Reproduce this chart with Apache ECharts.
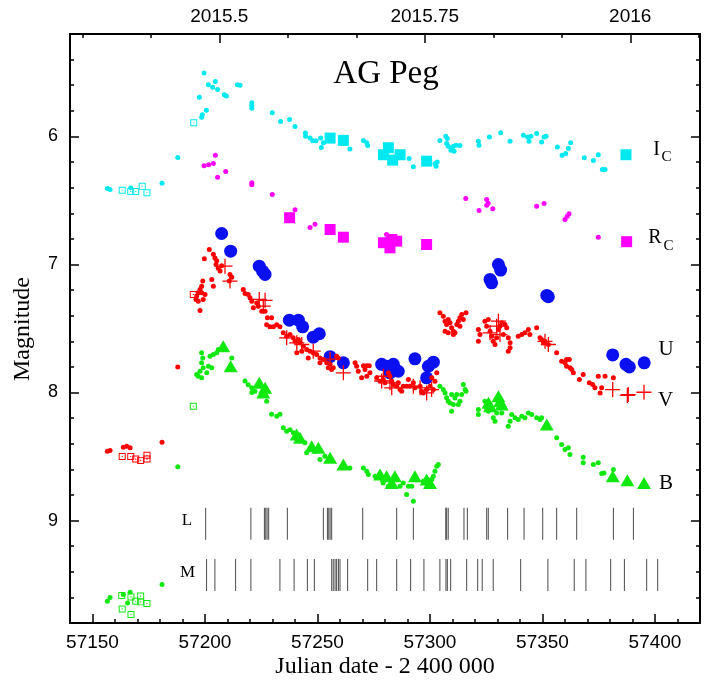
<!DOCTYPE html>
<html>
<head>
<meta charset="utf-8">
<script src="https://cdn.jsdelivr.net/npm/echarts@6/dist/echarts.min.js"></script>
<style>
html,body{margin:0;padding:0;background:#fff;}
#chart{width:710px;height:686px;}
</style>
</head>
<body>
<div id="chart"></div>
<script>
// ---------------- data (JD - 2400000, magnitude) ----------------
const icDots = [
[57156.6,6.406],[57157.8,6.414],[57167.0,6.40],[57180.9,6.365],[57187.9,6.164],
[57197.5,5.693],[57198.5,5.85],[57198.8,5.83],[57200.6,5.795],[57199.6,5.505],
[57201.5,5.596],[57203.4,5.615],[57204.6,5.57],[57205.6,5.633],[57208.6,5.674],[57209.5,5.685],
[57214.4,5.596],[57215.6,5.60],[57220.8,5.737],[57220.8,5.758],[57220.8,5.78],
[57229.9,5.815],[57233.6,5.883],[57237.6,5.867],[57240.0,5.922],[57244.6,5.974],[57244.7,5.998],
[57246.7,6.013],[57247.9,6.034],[57249.3,6.034],[57251.4,6.013],[57251.7,6.086],[57252.6,6.05],
[57264.4,6.099],[57270.4,6.031],[57271.9,6.05],[57272.3,6.07],[57290.7,6.172],[57292.6,6.237],
[57302.7,6.232],[57303.2,6.2],[57302.2,6.213],[57304.4,6.031],[57307.0,5.998],[57307.7,6.016],
[57307.4,6.055],[57308.1,6.076],[57309.3,6.107],[57310.4,6.076],[57311.6,6.068],[57313.3,6.07],
[57310.7,6.115],[57309.6,6.094],[57321.5,6.037],[57321.8,6.068],[57326.4,6.005],[57331.4,5.971],
[57335.6,6.037],[57341.5,5.99],[57343.4,6.005],[57344.0,6.037],[57344.9,5.998],[57347.4,5.977],
[57349.6,6.044],[57350.7,6.005],[57351.6,5.998],[57356.6,6.083],[57358.7,6.146],[57360.3,6.133],
[57361.5,6.094],[57362.5,6.05],[57368.6,6.167],[57372.6,6.188],[57374.8,6.143],[57376.6,6.258],[57377.8,6.258]
];
const icOpen = [[57163.2,6.42],[57167.0,6.43],[57169.2,6.43],[57172.1,6.39],[57174.2,6.44],[57195.0,5.893]];
const icBig = [[57255.6,6.013],[57261.5,6.031],[57281.5,6.088],[57279.3,6.143],[57283.4,6.185],[57286.7,6.143],[57298.5,6.193],[57387.1,6.143]];

const rcDots = [
[57204.6,6.146],[57199.6,6.229],[57201.6,6.221],[57203.7,6.211],[57205.6,6.318],[57209.2,6.273],
[57220.8,6.362],[57220.8,6.377],[57229.9,6.453],[57240.0,6.573],[57246.7,6.711],[57248.9,6.685],
[57280.7,6.766],[57315.9,6.484],[57321.8,6.578],[57325.2,6.492],[57325.9,6.521],[57325.2,6.537],
[57327.9,6.565],[57347.4,6.545],[57350.7,6.523],[57360.0,6.648],[57361.0,6.623],[57361.8,6.604],[57374.8,6.787]
];
const rcBig = [[57237.6,6.635],[57255.6,6.727],[57261.5,6.787],[57279.3,6.83],[57283.0,6.805],[57285.2,6.818],[57282.2,6.87],[57298.5,6.844],[57387.4,6.822]];

const uCircles = [
[57207.4,6.758],[57211.4,6.896],[57224.1,7.013],[57225.6,7.052],[57226.7,7.078],
[57237.5,7.435],[57241.5,7.435],[57243.4,7.487],[57248.1,7.568],[57250.8,7.541],
[57255.6,7.72],[57261.5,7.768],[57278.5,7.78],[57280.7,7.795],[57283.7,7.78],[57285.9,7.834],[57282.2,7.846],
[57293.3,7.737],[57299.3,7.795],[57301.5,7.763],[57298.5,7.885],
[57326.7,7.117],[57327.4,7.143],[57330.4,7.0],[57331.4,7.044],
[57351.9,7.242],[57352.6,7.252],[57381.2,7.706],[57387.1,7.78],[57388.6,7.8],[57395.2,7.768]
];

const vDots = [
[57156.6,8.459],[57157.8,8.453],[57163.7,8.427],[57165.2,8.42],[57166.7,8.432],[57180.9,8.388],[57187.9,7.80],
[57201.9,6.883],[57199.7,6.956],[57203.7,6.92],[57204.4,6.95],[57205.2,6.97],[57204.9,7.0],[57205.9,7.03],
[57206.7,7.05],[57207.4,7.01],[57211.1,7.078],[57211.9,7.10],[57210.8,7.13],[57203.0,7.117],[57203.7,7.17],
[57199.0,7.13],[57198.5,7.17],[57197.8,7.195],[57197.0,7.22],[57196.3,7.247],[57198.5,7.22],[57200.0,7.234],
[57199.2,7.273],[57197.0,7.287],[57196.0,7.273],[57197.8,7.36],
[57217.0,7.195],[57217.8,7.227],[57219.2,7.234],[57220.0,7.26],[57220.8,7.287],[57221.5,7.338],[57223.0,7.3],
[57223.7,7.326],[57225.2,7.365],[57226.7,7.365],[57227.7,7.417],[57229.6,7.417],[57227.4,7.47],[57228.9,7.487],
[57230.4,7.487],[57231.9,7.47],[57233.3,7.487],[57234.8,7.534],[57236.3,7.56],[57237.8,7.547],[57239.2,7.573],
[57240.0,7.6],[57241.5,7.586],[57242.2,7.612],[57243.7,7.638],[57245.2,7.664],[57246.7,7.677],[57248.1,7.69],
[57249.6,7.703],[57251.1,7.73],[57252.6,7.742],[57254.1,7.768],[57255.6,7.78],[57257.0,7.807],[57258.5,7.716],
[57240.8,7.69],[57243.0,7.677],[57245.9,7.73],[57251.1,7.768],[57254.8,7.807],
[57259.2,7.73],[57256.3,7.82],[57266.7,7.768],[57268.1,7.834],[57267.4,7.795],[57270.4,7.79],[57271.9,7.79],
[57273.0,7.79],[57271.1,7.82],[57269.6,7.885],[57271.9,7.873],[57273.3,7.846],[57276.3,7.885],[57277.8,7.912],
[57279.2,7.898],[57280.0,7.924],[57281.5,7.846],[57282.2,7.873],[57283.0,7.912],[57283.7,7.937],[57285.2,7.951],
[57285.9,7.924],[57286.7,7.977],[57287.4,7.99],[57288.1,7.951],[57289.6,7.951],[57291.1,7.951],[57290.4,7.898],
[57292.6,7.924],[57293.3,7.963],[57295.6,7.951],[57296.3,7.99],[57297.0,8.003],[57298.5,7.977],[57300.0,7.951],
[57303.0,7.846],[57301.5,7.977],[57302.2,7.912],[57300.8,7.885],
[57304.4,7.377],[57305.9,7.404],[57306.7,7.443],[57307.4,7.469],[57308.1,7.43],[57308.9,7.456],[57309.6,7.495],
[57310.4,7.521],[57310.4,7.547],[57311.1,7.534],[57311.9,7.469],[57312.6,7.443],[57313.3,7.417],[57314.1,7.391],
[57314.8,7.43],[57316.0,7.377],[57313.3,7.482],[57306.7,7.521],[57308.1,7.534],
[57321.5,7.508],[57322.2,7.547],[57321.5,7.6],[57324.4,7.443],[57325.2,7.482],[57325.9,7.43],[57326.7,7.521],
[57327.4,7.56],[57328.1,7.6],[57328.9,7.625],[57329.6,7.573],[57330.4,7.508],[57331.1,7.482],[57331.9,7.456],
[57333.3,7.469],[57334.1,7.495],[57334.8,7.573],[57335.6,7.612],[57335.6,7.651],[57334.8,7.677],[57332.6,7.547],
[57339.2,7.56],[57340.8,7.547],[57342.2,7.534],[57343.7,7.508],[57344.4,7.547],[57347.4,7.495],[57348.9,7.573],
[57351.1,7.6],[57352.6,7.625],[57356.3,7.69],[57349.6,7.586],[57350.4,7.612],
[57358.5,7.755],[57360.0,7.768],[57360.7,7.742],[57361.9,7.742],[57360.7,7.795],[57362.2,7.807],[57363.0,7.82],
[57363.7,7.846],[57366.4,7.898],[57368.1,7.859],[57370.8,7.924],[57372.3,7.937],[57373.3,7.963],[57375.6,8.003],
[57374.8,7.873],[57376.3,7.963],[57377.8,7.873],[57381.5,7.885]
];
const vOpen = [[57163.2,8.5],[57167.0,8.5],[57169.2,8.52],[57171.4,8.53],[57174.2,8.49],[57174.2,8.52],[57194.8,7.234]];
const vCross = [
[57208.9,7.013],[57211.1,7.13],[57224.1,7.273],[57226.7,7.28],[57225.9,7.326],
[57236.3,7.573],[57240.8,7.612],[57243.0,7.625],[57248.1,7.677],[57255.6,7.74],[57261.5,7.846],
[57278.5,7.91],[57279.3,7.873],[57282.2,7.924],[57283.0,7.963],[57292.6,7.951],[57295.6,7.963],[57298.5,8.003],[57300.7,7.977],
[57326.7,7.534],[57329.6,7.482],[57330.4,7.443],[57331.1,7.547],
[57351.1,7.6],[57352.6,7.625],[57381.2,7.977],[57387.7,8.023],[57388.1,8.016],[57395.1,7.998]
];

const bDots = [
[57156.6,9.63],[57157.8,9.6],[57163.7,9.578],[57165.6,9.643],[57166.7,9.56],[57180.9,9.5],[57187.9,8.58],
[57198.5,7.69],[57199.0,7.73],[57198.5,7.768],[57199.2,7.807],[57197.8,7.834],[57196.3,7.86],[57197.0,7.873],
[57198.5,7.885],[57201.5,7.795],[57203.0,7.807],[57203.7,7.703],[57205.2,7.69],[57205.9,7.664],[57211.9,7.73],
[57202.2,7.716],[57200.8,7.846],
[57217.8,7.91],[57219.2,7.94],[57220.8,7.963],[57220.8,8.0],[57222.2,7.99],[57227.4,8.068],[57226.7,8.016],
[57229.6,8.17],[57231.9,8.185],[57233.3,8.17],[57234.8,8.276],[57236.3,8.302],[57237.8,8.29],
[57239.3,8.315],[57244.4,8.393],[57248.9,8.459],[57251.1,8.523],[57253.3,8.497],[57245.2,8.471],
[57264.4,8.589],[57270.4,8.589],[57271.9,8.615],[57272.6,8.64],[57275.6,8.654],[57279.2,8.706],[57281.5,8.732],
[57286.7,8.732],[57288.1,8.706],[57290.4,8.732],[57291.9,8.732],[57289.6,8.797],[57292.6,8.849],[57297.0,8.693],
[57300.8,8.68],[57301.5,8.654],[57302.2,8.615],[57303.0,8.576],[57303.7,8.563],
[57304.4,7.951],[57305.9,7.977],[57306.7,8.003],[57307.4,8.04],[57308.1,8.068],[57308.9,8.081],[57309.6,8.146],
[57310.4,8.094],[57311.1,8.042],[57311.9,8.016],[57312.6,8.094],[57313.3,8.068],[57314.1,8.016],[57314.8,7.938],
[57315.6,7.977],[57316.0,7.99],[57309.6,8.016],
[57321.5,8.133],[57321.5,8.172],[57324.4,8.068],[57325.2,8.12],[57325.9,8.146],[57326.7,8.094],[57327.4,8.133],
[57328.1,8.198],[57328.9,8.224],[57329.6,8.159],[57331.1,8.12],[57331.9,8.159],[57336.3,8.172],[57335.6,8.224],
[57334.8,8.263],[57337.8,8.198],[57339.2,8.211],[57340.8,8.185],[57342.2,8.198],[57343.7,8.159],[57345.2,8.172],
[57347.4,8.198],[57348.9,8.211],[57349.6,8.198],
[57356.3,8.354],[57358.5,8.406],[57360.0,8.445],[57361.5,8.432],[57362.2,8.484],[57368.1,8.505],[57368.1,8.549],
[57372.6,8.563],[57374.8,8.549],[57376.3,8.633],[57377.3,8.628],[57381.5,8.602]
];
const bOpen = [[57163.0,9.586],[57163.2,9.69],[57167.1,9.596],[57167.1,9.734],[57169.2,9.63],[57171.4,9.59],[57171.4,9.635],[57174.2,9.648],[57194.8,8.107]];
const bTri = [
[57208.1,7.638],[57211.4,7.795],[57224.1,7.924],[57226.7,7.963],[57225.9,8.0],
[57240.7,8.328],[57242.2,8.354],[57247.4,8.42],[57250.4,8.432],[57255.6,8.51],[57261.5,8.563],
[57277.8,8.64],[57280.7,8.654],[57283.0,8.706],[57284.4,8.654],[57293.3,8.654],[57298.5,8.68],[57300.0,8.706],
[57326.0,8.08],[57326.7,8.107],[57330.4,8.03],[57331.1,8.068],[57331.9,8.094],[57351.9,8.25],
[57381.2,8.654],[57387.7,8.685],[57395.1,8.706]
];

const lTimes = [57200.3,57220.4,57226.4,57227.0,57227.6,57228.3,57236.6,57252.6,57254.4,57255.0,57255.6,57256.3,
57270.1,57285.2,57292.6,57307.0,57307.4,57308.1,57315.1,57316.6,57325.2,57325.9,57334.5,57341.8,57350.1,
57356.3,57365.2,57381.5,57390.4];
const mTimes = [57200.7,57204.4,57213.6,57220.4,57233.3,57239.6,57245.5,57248.6,57256.3,57257.0,57257.8,57258.5,
57259.3,57260.0,57263.4,57272.3,57276.3,57285.2,57291.4,57297.3,57304.4,57307.1,57307.7,57309.2,57316.3,
57321.2,57323.2,57328.1,57340.3,57352.4,57364.1,57369.3,57380.3,57386.4,57396.3,57401.2];

const xTickLabels = [57150,57200,57250,57300,57350,57400];
const yTickLabels = [6,7,8,9];
const topYearLabels = [2015.5,2015.75,2016];

// ---------------- helpers ----------------
const X_MIN = 57140, X_MAX = 57420, Y_MIN = 5.2, Y_MAX = 9.8;
const yearToJd = y => 57389 + (y - 2016) * 365.25;
const jdToYear = j => 2016 + (j - 57389) / 365.25;
const xMinor = []; for (let v = 57150; v <= 57410; v += 10) xMinor.push(v);
const yMinor = []; for (let k = 27; k <= 48; k++) yMinor.push(k / 5);
const monthTicks = []; for (let k = 4; k <= 13; k++) monthTicks.push(yearToJd(2015 + k / 12));
const yearTicks = topYearLabels.map(yearToJd);
const lRows = lTimes.map(t => [t, 8.9, 9.15]);
const mRows = mTimes.map(t => [t, 9.3, 9.55]);

const C_CYAN = '#00e8f0', C_MAG = '#ff00ff', C_RED = '#ff0000', C_BLUE = '#0a10f0', C_GREEN = '#10e810';
const OPEN_SQ = 'path://M0,0H10V10H0Z M1.4,1.4V8.6H8.6V1.4Z M4.2,4.2H5.8V5.8H4.2Z';
const PLUS = 'path://M0,6.4H14V7.6H0Z M6.4,0H7.6V14H6.4Z';
const sans = '"Liberation Sans", Arial, sans-serif';
const serif = '"Liberation Serif", "Times New Roman", serif';

function sc(data, symbol, size, color, z) {
  return {type:'scatter', data, symbol, symbolSize:size, itemStyle:{color, opacity:1},
    silent:true, animation:false, z:z||2, xAxisIndex:0, yAxisIndex:0};
}
function bars(data) {
  return {type:'custom', data, silent:true, animation:false, xAxisIndex:0, yAxisIndex:0,
    encode:{x:0, y:[1,2]},
    renderItem(params, api) {
      const a = api.coord([api.value(0), api.value(1)]);
      const b = api.coord([api.value(0), api.value(2)]);
      return {type:'line', shape:{x1:a[0], y1:a[1], x2:b[0], y2:b[1]},
        style:{stroke:'#4a4a4a', lineWidth:1}};
    }};
}

const axisLineStyle = {show:true, lineStyle:{color:'#000', width:2}};
const noLine = {show:false};
function xAx(pos, ticks, len, labels, fmt, line, margin) {
  return {type:'value', min:X_MIN, max:X_MAX, position:pos,
    axisLine: line ? axisLineStyle : noLine,
    axisTick:{show:true, inside:true, length:len, customValues:ticks, lineStyle:{color:'#000', width:1.5}},
    axisLabel: labels ? {show:true, customValues:labels, margin:margin, formatter:fmt,
      fontFamily:sans, fontSize:19, color:'#000'} : {show:false},
    splitLine:{show:false}};
}
function yAx(pos, ticks, len, labels, line) {
  return {type:'value', min:Y_MIN, max:Y_MAX, inverse:true, position:pos,
    axisLine: line ? axisLineStyle : noLine,
    axisTick:{show:true, inside:true, length:len, customValues:ticks, lineStyle:{color:'#000', width:1.5}},
    axisLabel: labels ? {show:true, customValues:labels, margin:12, formatter: v => String(Math.round(v)),
      fontFamily:sans, fontSize:18, color:'#000'} : {show:false},
    splitLine:{show:false}};
}

function txt(text, x, y, size, extra) {
  return Object.assign({type:'text', x, y, silent:true,
    style:{text, fontFamily:serif, fontSize:size, fill:'#000', align:'center', verticalAlign:'middle'}}, extra||{});
}

const chart = echarts.init(document.getElementById('chart'), null, {renderer:'canvas'});
chart.setOption({
  animation:false,
  backgroundColor:'#fff',
  grid:{left:70, right:10, top:34, bottom:63, containLabel:false},
  xAxis:[
    xAx('bottom', xMinor, 4, null, null, true),
    xAx('bottom', xTickLabels, 9, xTickLabels, v => String(Math.round(v)), false, 10),
    xAx('top', monthTicks, 4, null, null, true),
    xAx('top', yearTicks, 9, yearTicks, v => String(Math.round(jdToYear(v) * 100) / 100), false, 8)
  ],
  yAxis:[
    yAx('left', yMinor, 4, null, true),
    yAx('left', yTickLabels, 9, yTickLabels, false),
    yAx('right', yMinor, 4, null, true),
    yAx('right', yTickLabels, 9, null, false)
  ],
  series:[
    bars(lRows), bars(mRows),
    sc(icDots, 'circle', 5, C_CYAN),
    sc(icOpen, OPEN_SQ, 7, C_CYAN),
    sc(icBig, 'rect', 11, C_CYAN),
    sc(rcDots, 'circle', 5, C_MAG),
    sc(rcBig, 'rect', 11, C_MAG),
    sc(uCircles, 'circle', 13, C_BLUE),
    sc(vDots, 'circle', 5, C_RED, 3),
    sc(vOpen, OPEN_SQ, 7, C_RED),
    sc(vCross, PLUS, 15, C_RED, 4),
    sc(bDots, 'circle', 5, C_GREEN),
    sc(bOpen, OPEN_SQ, 7, C_GREEN),
    sc(bTri, 'triangle', [14, 12], C_GREEN, 3)
  ],
  graphic:[
    txt('AG Peg', 386, 74, 33),
    txt('Magnitude', 23, 329, 24, {rotation: Math.PI / 2}),
    txt('Julian date - 2 400 000', 385, 667, 24),
    txt('I', 656.5, 150, 20), txt('C', 666.5, 157.5, 15),
    txt('R', 655, 238, 20), txt('C', 668.5, 246, 15),
    txt('U', 666, 349, 21),
    txt('V', 665.5, 400, 21),
    txt('B', 666, 483.5, 21),
    txt('L', 187, 521, 17),
    txt('M', 187.5, 572.5, 17)
  ]
});
</script>
</body>
</html>
